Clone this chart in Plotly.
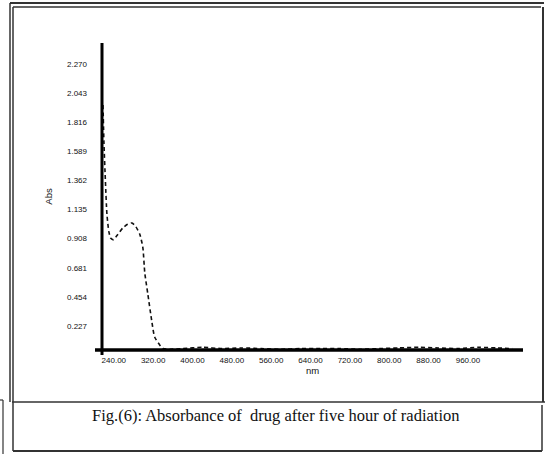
import plotly.graph_objects as go

# Data
wavelength_nm = [218, 220, 223, 226, 230, 234, 239, 248, 258, 268, 277, 285, 293, 299,
                 303, 309, 317, 323, 333, 340, 355, 380, 420, 460, 500, 540, 580,
                 620, 660, 700, 740, 780, 820, 860, 900, 940, 980, 1020, 1050]
absorbance = [1.95, 1.65, 1.35, 1.10, 0.96, 0.91, 0.90, 0.94, 0.99, 1.02, 1.03, 1.00, 0.94, 0.84,
              0.64, 0.48, 0.27, 0.14, 0.08, 0.05, 0.045, 0.05, 0.06, 0.05, 0.055, 0.05, 0.045,
              0.05, 0.05, 0.05, 0.045, 0.05, 0.055, 0.06, 0.055, 0.05, 0.06, 0.055, 0.05]

y_tick_vals = [0.227, 0.454, 0.681, 0.908, 1.135, 1.362, 1.589, 1.816, 2.043, 2.270]
y_tick_text = ["0.227", "0.454", "0.681", "0.908", "1.135", "1.362", "1.589", "1.816", "2.043", "2.270"]
x_tick_vals = [240, 320, 400, 480, 560, 640, 720, 800, 880, 960]
x_tick_text = ["240.00", "320.00", "400.00", "480.00", "560.00", "640.00", "720.00", "800.00", "880.00", "960.00"]

caption = "Fig.(6): Absorbance of  drug after five hour of radiation"

W, H = 548, 454


def px(x):
    return x / W


def py(y):
    return 1 - y / H


fig = go.Figure()
fig.add_trace(go.Scatter(
    x=wavelength_nm, y=absorbance, mode="lines",
    line=dict(color="#111", width=1.6, dash="4px,3px", shape="spline", smoothing=0.6),
    showlegend=False, hoverinfo="skip"))

tick_font = dict(family="Liberation Sans, Arial, sans-serif", size=8, color="#111")

fig.update_layout(
    width=W, height=H,
    margin=dict(l=0, r=0, t=0, b=0),
    paper_bgcolor="white", plot_bgcolor="white",
    xaxis=dict(domain=[px(102), px(523)], range=[216, 1072],
               tickvals=x_tick_vals, ticktext=x_tick_text, tickfont=tick_font,
               showgrid=False, zeroline=False, showline=False, ticks="",
               ticklabelstandoff=4,
               title=dict(text="nm", font=dict(family="Liberation Sans, Arial, sans-serif", size=9.5, color="#111"),
                          standoff=1)),
    yaxis=dict(domain=[py(350), py(43)], range=[0.039, 2.434],
               tickvals=y_tick_vals, ticktext=y_tick_text, tickfont=tick_font,
               showgrid=False, zeroline=False, showline=False, ticks="",
               ticklabelstandoff=14,
               title=dict(text="Abs", font=dict(family="Liberation Sans, Arial, sans-serif", size=9.5, color="#111"),
                          standoff=12)),
)

shapes = []


def line(x0, y0, x1, y1, w=1.5, c="#333"):
    shapes.append(dict(type="line", xref="paper", yref="paper",
                       x0=px(x0), y0=py(y0), x1=px(x1), y1=py(y1),
                       line=dict(color=c, width=w)))


# axes lines
line(102, 43, 102, 355, w=3, c="#000")
line(95, 350, 523, 350, w=3.5, c="#000")

# outer frame of chart panel
line(10, 3, 544, 3, w=2, c="#333")
line(13, 7, 541, 7, w=1.5, c="#333")
line(10, 3, 10, 402, w=1.5, c="#333")
line(13, 7, 13, 451, w=1.5, c="#333")
line(543, 7, 543, 402, w=2, c="#333")
# caption box
line(12, 402, 545, 402, w=1.5, c="#333")
line(13, 451, 542, 451, w=2, c="#333")
line(542, 405, 542, 451, w=1.5, c="#333")
# small box at left
line(0, 400, 3, 400, w=1.2, c="#333")
line(3, 400, 3, 454, w=1.2, c="#333")

fig.update_layout(shapes=shapes)

fig.add_annotation(xref="paper", yref="paper", x=px(275), y=py(427),
                   text=caption, showarrow=False,
                   font=dict(family="Liberation Serif, Times New Roman, serif", size=16.5, color="#111"))

fig.write_html("out.html")
